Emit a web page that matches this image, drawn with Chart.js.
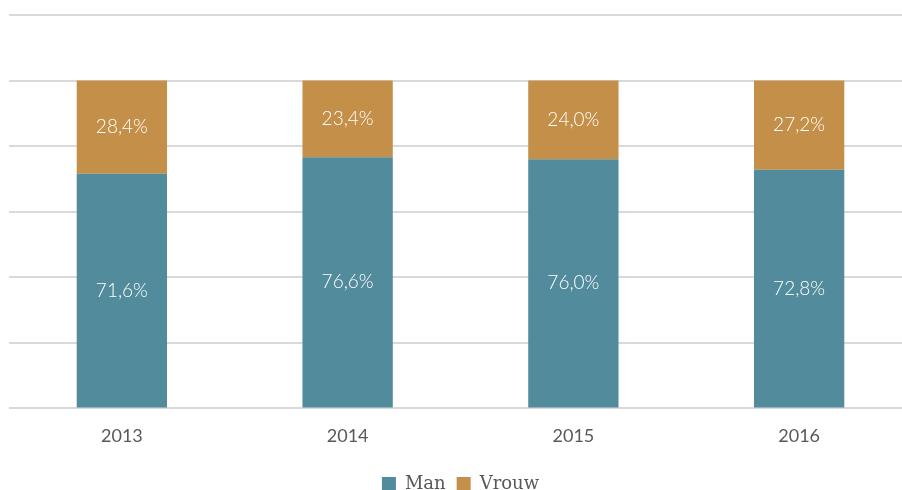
<!DOCTYPE html>
<html>
<head>
<meta charset="utf-8">
<script src="https://cdn.jsdelivr.net/npm/chart.js@4/dist/chart.umd.min.js"></script>
<style>
  html, body { margin: 0; padding: 0; background: #fff; overflow: hidden; }
</style>
</head>
<body>
<canvas id="barChart" width="928" height="503"></canvas>
<script>
var jaren = ['2013', '2014', '2015', '2016'];
var man = [71.6, 76.6, 76.0, 72.8];
var vrouw = [28.4, 23.4, 24.0, 27.2];

// labels in het midden van elk segment
var labelPlugin = {
    id: 'segmentLabels',
    afterDatasetsDraw: function(chart) {
        var ctx = chart.ctx;
        ctx.save();
        ctx.fillStyle = '#ffffff';
        ctx.font = '300 19px Lato';
        ctx.textAlign = 'center';
        ctx.textBaseline = 'middle';
        chart.data.datasets.forEach(function(ds, i) {
            chart.getDatasetMeta(i).data.forEach(function(bar, j) {
                var midden = (bar.y + bar.base) / 2;
                ctx.fillText(ds.data[j].toFixed(1).replace('.', ',') + '%', bar.x, midden);
            });
        });
        ctx.restore();
    }
};

var ctx = document.getElementById('barChart').getContext('2d');
var myChart = new Chart(ctx, {
    type: 'bar',
    data: {
        labels: jaren,
        datasets: [{
            label: 'Man',
            data: man,
            backgroundColor: '#528b9b'
        }, {
            label: 'Vrouw',
            data: vrouw,
            backgroundColor: '#c49049'
        }]
    },
    options: {
        responsive: false,
        animation: false,
        layout: { padding: { left: 9, right: 16, top: 15, bottom: 0 } },
        datasets: {
            bar: { categoryPercentage: 1, barPercentage: 0.4 }
        },
        scales: {
            x: {
                stacked: true,
                grid: { display: false, drawTicks: false },
                border: { display: false },
                ticks: { color: '#595959', font: { family: 'Lato', size: 18, lineHeight: 1.2 }, padding: 17 }
            },
            y: {
                stacked: true,
                min: 0,
                max: 120,
                ticks: { display: false, stepSize: 20 },
                border: { display: false },
                grid: { color: '#d9d9d9', lineWidth: 2, drawTicks: false }
            }
        },
        plugins: {
            legend: {
                position: 'bottom',
                labels: {
                    color: '#595959',
                    font: { family: 'DejaVu Serif', size: 18 },
                    boxWidth: 14,
                    boxHeight: 14,
                    padding: 11
                }
            },
            tooltip: { enabled: false }
        }
    },
    plugins: [labelPlugin]
});
</script>
</body>
</html>
